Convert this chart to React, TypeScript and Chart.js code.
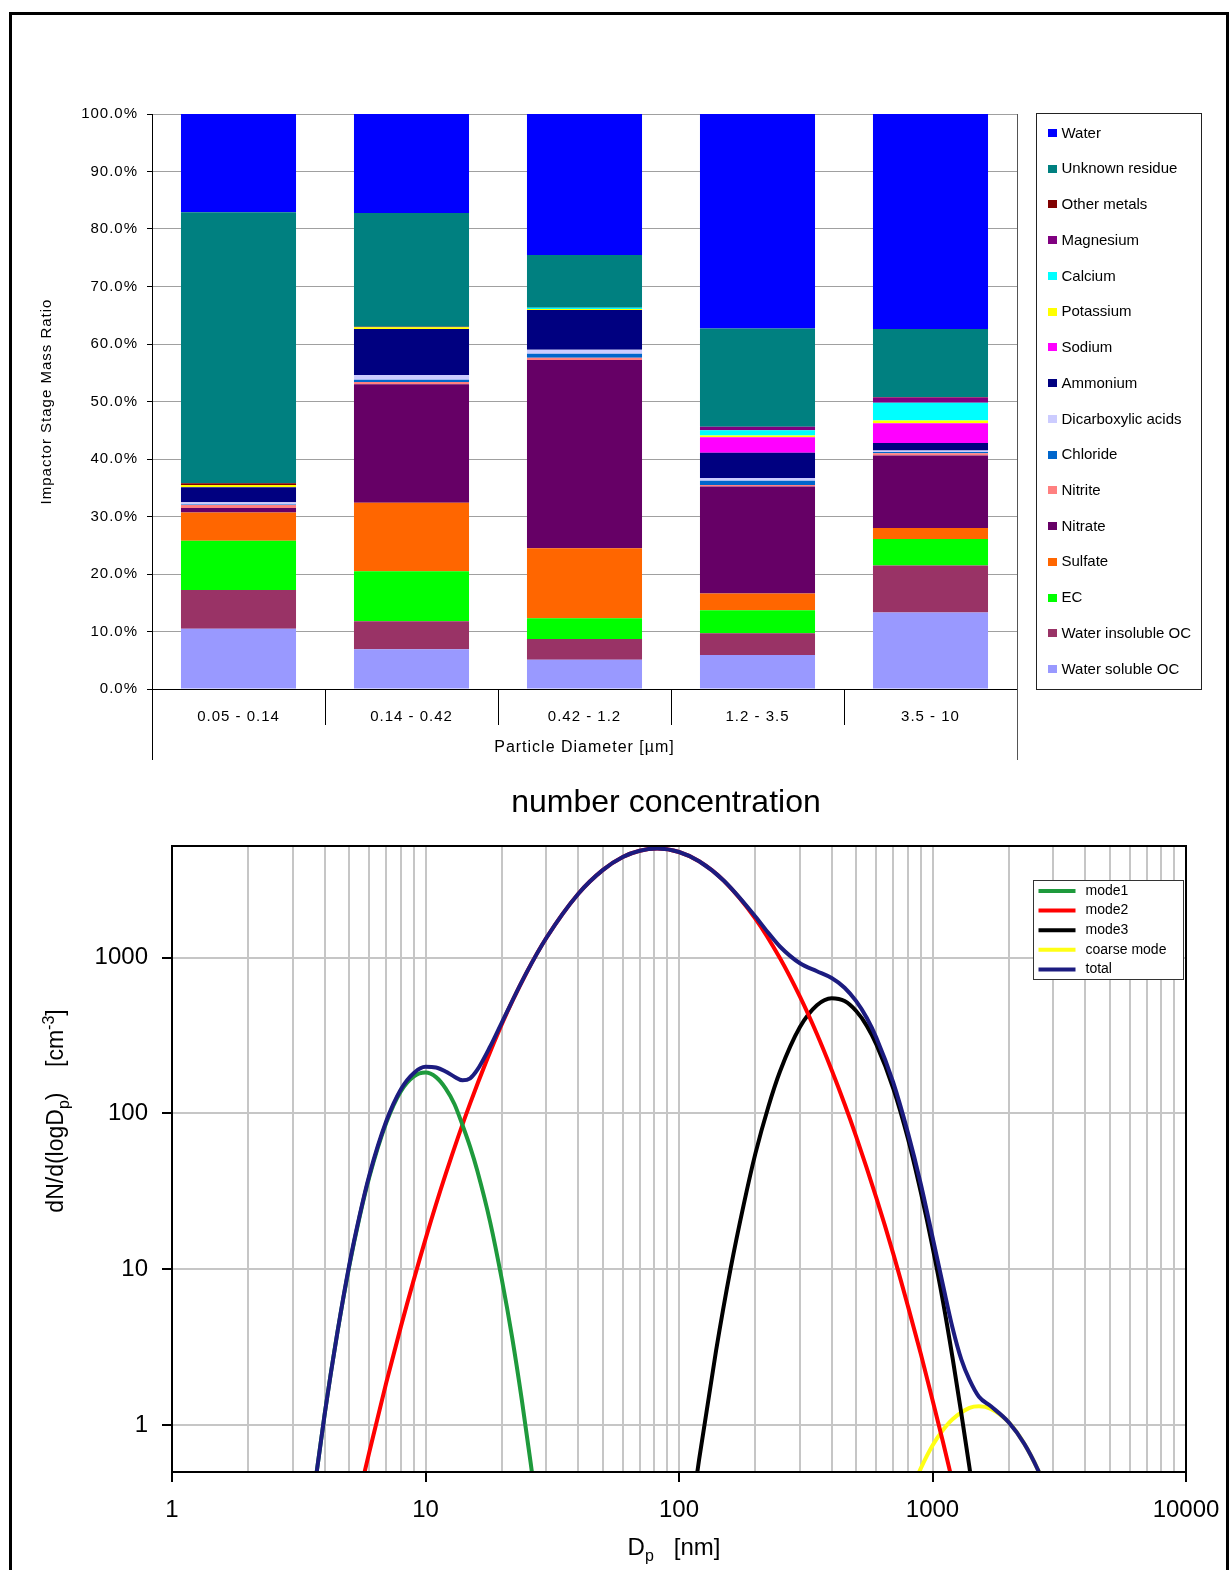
import React, { useEffect, useRef } from 'react';
import { Chart, registerables } from 'chart.js';

Chart.register(...registerables);

const FONT = "'Liberation Sans', Arial, Helvetica, sans-serif";

// ---------- Impactor stage composition (mass %, stacked bottom -> top) ----------
const sizeRanges = ['0.05 - 0.14', '0.14 - 0.42', '0.42 - 1.2', '1.2 - 3.5', '3.5 - 10'];

const waterSolubleOC = [10.5, 6.9, 5.1, 5.9, 13.3];
const waterInsolubleOC = [6.7, 4.9, 3.6, 3.8, 8.2];
const elementalCarbon = [8.6, 8.7, 3.6, 4.0, 4.6];
const sulfate = [4.9, 11.9, 12.2, 2.9, 1.9];
const nitrate = [0.8, 20.6, 32.7, 18.6, 12.6];
const nitrite = [0.5, 0.4, 0.4, 0.3, 0.4];
const chloride = [0.1, 0.4, 0.7, 0.7, 0.2];
const dicarboxylicAcids = [0.4, 0.8, 0.7, 0.5, 0.3];
const ammonium = [2.6, 8.0, 6.9, 4.4, 1.3];
const sodium = [0, 0, 0, 2.7, 3.4];
const potassium = [0.4, 0.3, 0.2, 0.3, 0.5];
const calcium = [0, 0, 0.2, 0.9, 3.1];
const magnesium = [0, 0, 0, 0.6, 0.9];
const otherMetals = [0.3, 0.1, 0, 0, 0.1];
const unknownResidue = [47.1, 19.8, 9.2, 17.1, 11.8];
const water = [17.1, 17.2, 24.5, 37.3, 37.4];

const components = [
  { label: 'Water soluble OC', values: waterSolubleOC, color: '#9999FF' },
  { label: 'Water insoluble OC', values: waterInsolubleOC, color: '#993366' },
  { label: 'EC', values: elementalCarbon, color: '#00FF00' },
  { label: 'Sulfate', values: sulfate, color: '#FF6600' },
  { label: 'Nitrate', values: nitrate, color: '#660066' },
  { label: 'Nitrite', values: nitrite, color: '#FF8080' },
  { label: 'Chloride', values: chloride, color: '#0066CC' },
  { label: 'Dicarboxylic acids', values: dicarboxylicAcids, color: '#CCCCFF' },
  { label: 'Ammonium', values: ammonium, color: '#000080' },
  { label: 'Sodium', values: sodium, color: '#FF00FF' },
  { label: 'Potassium', values: potassium, color: '#FFFF00' },
  { label: 'Calcium', values: calcium, color: '#00FFFF' },
  { label: 'Magnesium', values: magnesium, color: '#800080' },
  { label: 'Other metals', values: otherMetals, color: '#800000' },
  { label: 'Unknown residue', values: unknownResidue, color: '#008080' },
  { label: 'Water', values: water, color: '#0000FF' },
];

// ---------- Number size distribution, Dp [nm] vs dN/dlogDp [cm-3] ----------
const mode1Dp = [3.5, 4, 4.5, 5, 5.5, 6, 7, 8, 9, 10, 11, 12, 13, 14, 15, 16, 18, 20, 22, 24, 26, 28];
const mode1N = [0.24, 1.17, 4.0, 10.4, 21.8, 39, 87, 139, 173, 183, 171, 145, 115, 84, 61, 43, 20, 8.6, 3.6, 1.44, 0.57, 0.23];

const mode2Dp = [5, 6, 7, 8, 10, 12, 15, 20, 25, 30, 40, 50, 60, 70, 82, 100, 120, 150, 200, 250, 300, 350, 400, 450, 500, 600, 700, 800, 900, 1000, 1100, 1200, 1300];
const mode2N = [0.19, 0.67, 1.87, 4.3, 15.6, 40.6, 116, 374, 796, 1340, 2560, 3640, 4420, 4850, 5010, 4760, 4150, 3120, 1780, 993, 561, 323, 190, 115, 71, 28.8, 12.6, 5.8, 2.85, 1.45, 0.78, 0.43, 0.24];

const mode3Dp = [110, 120, 140, 160, 180, 200, 225, 250, 300, 350, 400, 450, 500, 550, 600, 700, 800, 900, 1000, 1100, 1200, 1300, 1400, 1500];
const mode3N = [0.22, 0.6, 3.0, 10.2, 26, 55, 110, 185, 358, 494, 548, 526, 454, 366, 278, 145, 69, 31, 13.9, 6.2, 2.7, 1.18, 0.53, 0.24];

const coarseDp = [800, 900, 1000, 1100, 1200, 1400, 1525, 1700, 2000, 2300, 2600, 2900];
const coarseN = [0.34, 0.53, 0.74, 0.93, 1.09, 1.29, 1.32, 1.27, 1.04, 0.76, 0.52, 0.34];

const totalDp = [3.5, 4, 4.5, 5, 5.5, 6, 7, 8, 9, 10, 11, 12, 13, 14, 15, 16, 18, 20, 25, 30, 40, 50, 60, 70, 82, 100, 120, 150, 200, 225, 250, 300, 350, 400, 450, 500, 550, 600, 700, 800, 900, 1000, 1100, 1200, 1300, 1400, 1525, 1700, 2000, 2300, 2600, 2900];
const totalN = [0.24, 1.17, 4.0, 10.6, 22.2, 40, 89, 143, 182, 199, 197, 186, 172, 163, 168, 190, 269, 383, 797, 1340, 2560, 3640, 4420, 4850, 5010, 4760, 4150, 3125, 1837, 1441, 1178, 919, 817, 739, 641, 525, 411, 307, 158, 75, 35, 16.1, 7.9, 4.2, 2.63, 1.95, 1.52, 1.32, 1.04, 0.76, 0.52, 0.34];

const modes = [
  { label: 'mode1', dp: mode1Dp, n: mode1N, color: '#1e9a3c', order: 1 },
  { label: 'mode2', dp: mode2Dp, n: mode2N, color: '#ff0000', order: 1 },
  { label: 'mode3', dp: mode3Dp, n: mode3N, color: '#000000', order: 1 },
  { label: 'coarse mode', dp: coarseDp, n: coarseN, color: '#ffff14', order: 1 },
  { label: 'total', dp: totalDp, n: totalN, color: '#1c1c80', order: 0 },
];

// axis ticks
const dpDecades = [1, 10, 100, 1000, 10000];
const dpGridValues = [
  1, 2, 3, 4, 5, 6, 7, 8, 9,
  10, 20, 30, 40, 50, 60, 70, 80, 90,
  100, 200, 300, 400, 500, 600, 700, 800, 900,
  1000, 2000, 3000, 4000, 5000, 6000, 7000, 8000, 9000,
  10000,
];
const nDecades = [1, 10, 100, 1000];

type Seg = { text: string; size: number; shift: number };

function drawRich(ctx: CanvasRenderingContext2D, segs: Seg[], cx: number, baseline: number) {
  const widths = segs.map((s) => {
    ctx.font = `${s.size}px ${FONT}`;
    return ctx.measureText(s.text).width;
  });
  const total = widths.reduce((a, b) => a + b, 0);
  let x = cx - total / 2;
  ctx.textAlign = 'left';
  ctx.textBaseline = 'alphabetic';
  segs.forEach((s, i) => {
    ctx.font = `${s.size}px ${FONT}`;
    ctx.fillText(s.text, x, baseline + s.shift);
    x += widths[i];
  });
}

// slightly wider axis lettering on the composition chart
const axisLetterSpacing = {
  id: 'axisLetterSpacing',
  beforeInit(chart: any) {
    (chart.ctx as any).letterSpacing = '1px';
  },
  beforeDraw(chart: any) {
    (chart.ctx as any).letterSpacing = '1px';
  },
};

// category table lines, plot frame and the legend box of the stacked chart
const barExtras = {
  id: 'barExtras',
  afterDraw(chart: any) {
    const { ctx, chartArea: a } = chart;
    const xs = chart.scales.x;
    ctx.save();
    (ctx as any).letterSpacing = '0px';
    ctx.lineWidth = 1;
    ctx.strokeStyle = '#000';
    const tableBottom = a.bottom + 71;
    const sepBottom = a.bottom + 36;
    ctx.beginPath();
    const lx = Math.round(a.left) + 0.5;
    ctx.moveTo(lx, a.bottom);
    ctx.lineTo(lx, tableBottom);
    for (let i = 0; i < sizeRanges.length - 1; i++) {
      const px = Math.round((xs.getPixelForValue(i) + xs.getPixelForValue(i + 1)) / 2) + 0.5;
      ctx.moveTo(px, a.bottom);
      ctx.lineTo(px, sepBottom);
    }
    ctx.stroke();
    ctx.strokeStyle = '#555';
    ctx.beginPath();
    const rx = Math.round(a.right) + 0.5;
    ctx.moveTo(rx, a.top);
    ctx.lineTo(rx, tableBottom);
    ctx.stroke();

    // legend (top of stack first)
    const bx = Math.round(a.right) + 19.5;
    const by = Math.round(a.top) - 0.5;
    const bw = 165;
    const bh = Math.round(a.bottom - a.top) + 1;
    ctx.fillStyle = '#fff';
    ctx.fillRect(bx, by, bw, bh);
    ctx.strokeStyle = '#222';
    ctx.strokeRect(bx, by, bw, bh);
    const items = [...chart.data.datasets].reverse();
    const first = by + 19.5;
    const step = (bh - 40) / (items.length - 1);
    ctx.font = `15px ${FONT}`;
    ctx.textBaseline = 'middle';
    ctx.textAlign = 'left';
    items.forEach((ds: any, i: number) => {
      const cy = first + i * step;
      ctx.fillStyle = ds.backgroundColor;
      ctx.fillRect(bx + 11.5, Math.round(cy - 4), 9, 8);
      ctx.fillStyle = '#000';
      ctx.fillText(ds.label, bx + 25, cy + 0.5);
    });
    ctx.restore();
  },
};

// frame, title, axis titles with sub/superscripts and the legend of the distribution plot
const distExtras = {
  id: 'distExtras',
  afterDraw(chart: any) {
    const { ctx, chartArea: a } = chart;
    ctx.save();
    ctx.strokeStyle = '#000';
    ctx.lineWidth = 2;
    ctx.strokeRect(a.left, a.top, a.right - a.left, a.bottom - a.top);

    ctx.fillStyle = '#000';
    ctx.font = `32px ${FONT}`;
    ctx.textAlign = 'center';
    ctx.textBaseline = 'alphabetic';
    ctx.fillText('number concentration', 654, 32);

    drawRich(
      ctx,
      [
        { text: 'D', size: 24, shift: 0 },
        { text: 'p', size: 16, shift: 6 },
        { text: '   [nm]', size: 24, shift: 0 },
      ],
      662,
      775
    );

    ctx.save();
    ctx.translate(43, 331);
    ctx.rotate(-Math.PI / 2);
    drawRich(
      ctx,
      [
        { text: 'dN/d(logD', size: 23, shift: 0 },
        { text: 'p', size: 16, shift: 6 },
        { text: ')    [cm', size: 23, shift: 0 },
        { text: '-3', size: 16, shift: -9 },
        { text: ']', size: 23, shift: 0 },
      ],
      0,
      8
    );
    ctx.restore();

    const bx = Math.round(a.right) - 152.5;
    const by = Math.round(a.top) + 34.5;
    const bw = 150;
    const bh = 99;
    ctx.fillStyle = '#fff';
    ctx.fillRect(bx, by, bw, bh);
    ctx.strokeStyle = '#333';
    ctx.lineWidth = 1;
    ctx.strokeRect(bx, by, bw, bh);
    ctx.font = `14px ${FONT}`;
    ctx.textAlign = 'left';
    ctx.textBaseline = 'middle';
    chart.data.datasets.forEach((ds: any, i: number) => {
      const cy = by + 10.5 + i * 19.6;
      ctx.strokeStyle = ds.borderColor;
      ctx.lineWidth = 4;
      ctx.beginPath();
      ctx.moveTo(bx + 5, cy);
      ctx.lineTo(bx + 42, cy);
      ctx.stroke();
      ctx.fillStyle = '#000';
      ctx.fillText(ds.label, bx + 52, cy);
    });
    ctx.restore();
  },
};

export default function App() {
  const barRef = useRef<HTMLCanvasElement>(null);
  const distRef = useRef<HTMLCanvasElement>(null);

  useEffect(() => {
    Chart.defaults.font.family = FONT;

    const barChart = new Chart(barRef.current as HTMLCanvasElement, {
      type: 'bar',
      data: {
        labels: sizeRanges,
        datasets: components.map((c) => ({
          label: c.label,
          data: c.values,
          backgroundColor: c.color,
          borderWidth: 0,
          barPercentage: 0.665,
          categoryPercentage: 1,
        })),
      },
      options: {
        responsive: false,
        animation: false,
        devicePixelRatio: 1,
        layout: { padding: { left: 0, top: 114, right: 212, bottom: 0 } },
        plugins: { legend: { display: false }, tooltip: { enabled: false } },
        scales: {
          x: {
            stacked: true,
            grid: { display: false, drawTicks: false },
            border: { display: true, color: '#000', width: 1 },
            ticks: { color: '#000', font: { family: FONT, size: 15 }, padding: 19, maxRotation: 0 },
            title: {
              display: true,
              text: 'Particle Diameter [µm]',
              color: '#000',
              font: { family: FONT, size: 16 },
              padding: { top: 0, bottom: 18 },
            },
            afterFit: (s: any) => {
              s.height = 86;
            },
          },
          y: {
            stacked: true,
            min: 0,
            max: 100,
            ticks: {
              stepSize: 10,
              callback: (v: any) => Number(v).toFixed(1) + '%',
              color: '#000',
              font: { family: FONT, size: 15 },
              padding: 9,
            },
            grid: { color: '#a0a0a0', tickColor: '#000', tickLength: 5, lineWidth: 1 },
            border: { display: true, color: '#000', width: 1 },
            title: {
              display: true,
              text: 'Impactor Stage Mass Ratio',
              color: '#000',
              font: { family: FONT, size: 15 },
              padding: { top: 38, bottom: 0 },
            },
            afterFit: (s: any) => {
              s.width = 152;
            },
          },
        },
      } as any,
      plugins: [axisLetterSpacing, barExtras],
    });

    const distChart = new Chart(distRef.current as HTMLCanvasElement, {
      type: 'line',
      data: {
        datasets: modes.map((m) => ({
          label: m.label,
          data: m.dp.map((d, i) => ({ x: d, y: m.n[i] })),
          borderColor: m.color,
          backgroundColor: m.color,
          borderWidth: 4,
          pointRadius: 0,
          cubicInterpolationMode: 'monotone',
          fill: false,
          order: m.order,
        })),
      },
      options: {
        responsive: false,
        animation: false,
        devicePixelRatio: 1,
        layout: { padding: { left: 0, top: 66, right: 43, bottom: 0 } },
        plugins: { legend: { display: false }, tooltip: { enabled: false } },
        scales: {
          x: {
            type: 'logarithmic',
            min: 1,
            max: 10000,
            afterBuildTicks: (s: any) => {
              s.ticks = dpGridValues.map((v) => ({ value: v }));
            },
            ticks: {
              autoSkip: false,
              maxRotation: 0,
              callback: (v: any) => (dpDecades.includes(Number(v)) ? String(v) : ''),
              color: '#000',
              font: { family: FONT, size: 24, lineHeight: 1.6 },
              padding: 9,
            },
            grid: {
              color: '#c6c6c6',
              lineWidth: 2,
              tickLength: 10,
              tickWidth: 2,
              tickColor: (c: any) => (c.tick && dpDecades.includes(c.tick.value) ? '#000' : 'rgba(0,0,0,0)'),
            },
            border: { display: false },
            afterFit: (s: any) => {
              s.height = 98;
            },
          },
          y: {
            type: 'logarithmic',
            min: 0.5,
            max: 5200,
            afterBuildTicks: (s: any) => {
              s.ticks = nDecades.map((v) => ({ value: v }));
            },
            ticks: {
              callback: (v: any) => String(v),
              color: '#000',
              font: { family: FONT, size: 24 },
              padding: 14,
            },
            grid: { color: '#c6c6c6', lineWidth: 2, tickLength: 10, tickWidth: 2, tickColor: '#000' },
            border: { display: false },
            afterFit: (s: any) => {
              s.width = 160;
            },
          },
        },
      } as any,
      plugins: [distExtras],
    });

    return () => {
      barChart.destroy();
      distChart.destroy();
    };
  }, []);

  return (
    <div
      style={{
        position: 'absolute',
        left: 0,
        top: 0,
        width: 1229,
        height: 1570,
        overflow: 'hidden',
        background: '#fff',
      }}
    >
      <canvas ref={barRef} width={1229} height={775} style={{ position: 'absolute', left: 0, top: 0 }} />
      <canvas ref={distRef} width={1217} height={790} style={{ position: 'absolute', left: 12, top: 780 }} />
      <div
        style={{
          position: 'absolute',
          left: 9,
          top: 12,
          width: 1214,
          height: 1600,
          border: '3px solid #000',
          pointerEvents: 'none',
        }}
      />
    </div>
  );
}
